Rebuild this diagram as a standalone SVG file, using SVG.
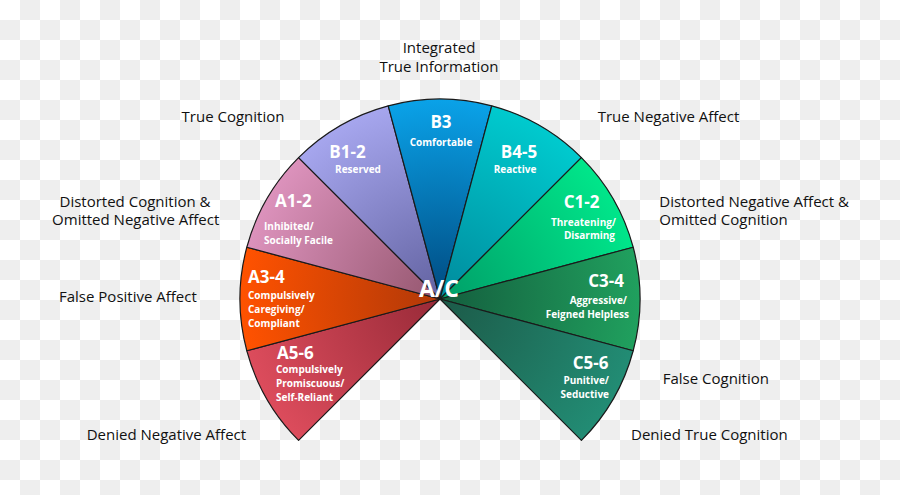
<svg xmlns="http://www.w3.org/2000/svg" width="900" height="495" viewBox="0 0 900 495">
<style>
.sec{stroke:#1a1a1a;stroke-width:1.2;stroke-linejoin:round}
.t{font-family:"Open Sans","Noto Sans","Liberation Sans",sans-serif;fill:#fff;font-weight:700}
.h{font-size:17px}
.d{font-size:10px}
.o{font-family:"Open Sans","Noto Sans","Liberation Sans",sans-serif;font-size:15px;fill:#111}
.m{text-anchor:middle}
.e{text-anchor:end}
</style>
<defs>
<pattern id="chk" width="40" height="40" patternUnits="userSpaceOnUse">
<rect width="40" height="40" fill="#ffffff"/>
<rect x="20" y="0" width="20" height="20" fill="#eeeeee"/>
<rect x="0" y="20" width="20" height="20" fill="#eeeeee"/>
</pattern>
<radialGradient id="gA56" gradientUnits="userSpaceOnUse" cx="440" cy="299" r="200"><stop offset="0" stop-color="#982a38"/><stop offset="1" stop-color="#dc4c5c"/></radialGradient>
<radialGradient id="gA34" gradientUnits="userSpaceOnUse" cx="440" cy="299" r="200"><stop offset="0" stop-color="#b03808"/><stop offset="1" stop-color="#ff5200"/></radialGradient>
<radialGradient id="gA12" gradientUnits="userSpaceOnUse" cx="440" cy="299" r="200"><stop offset="0" stop-color="#94566e"/><stop offset="1" stop-color="#dc92bc"/></radialGradient>
<radialGradient id="gB12" gradientUnits="userSpaceOnUse" cx="440" cy="299" r="200"><stop offset="0" stop-color="#6262a0"/><stop offset="1" stop-color="#a6a6ee"/></radialGradient>
<radialGradient id="gB3" gradientUnits="userSpaceOnUse" cx="440" cy="299" r="200"><stop offset="0" stop-color="#004a80"/><stop offset="1" stop-color="#0aa2e8"/></radialGradient>
<radialGradient id="gB45" gradientUnits="userSpaceOnUse" cx="440" cy="299" r="200"><stop offset="0" stop-color="#008a9c"/><stop offset="1" stop-color="#00cace"/></radialGradient>
<radialGradient id="gC12" gradientUnits="userSpaceOnUse" cx="440" cy="299" r="200"><stop offset="0" stop-color="#009e68"/><stop offset="1" stop-color="#00e68a"/></radialGradient>
<radialGradient id="gC34" gradientUnits="userSpaceOnUse" cx="440" cy="299" r="200"><stop offset="0" stop-color="#145e3e"/><stop offset="1" stop-color="#20a05e"/></radialGradient>
<radialGradient id="gC56" gradientUnits="userSpaceOnUse" cx="440" cy="299" r="200"><stop offset="0" stop-color="#1c5a48"/><stop offset="1" stop-color="#228c74"/></radialGradient>
</defs>
<rect width="900" height="495" fill="url(#chk)"/>

<g id="A56"><path class="sec" fill="url(#gA56)" d="M440,299 L298.58,440.42 A200,200 0 0 1 246.81,350.76 Z"/>
<text class="t h" x="277" y="358.5">A5-6</text>
<text class="t d" x="276" y="373">Compulsively</text>
<text class="t d" x="276" y="387">Promiscuous/</text>
<text class="t d" x="276" y="401">Self-Reliant</text></g>

<g id="A34"><path class="sec" fill="url(#gA34)" d="M440,299 L246.81,350.76 A200,200 0 0 1 246.81,247.24 Z"/>
<text class="t h" x="248" y="283">A3-4</text>
<text class="t d" x="248" y="298.5">Compulsively</text>
<text class="t d" x="248" y="313">Caregiving/</text>
<text class="t d" x="248" y="327">Compliant</text></g>

<g id="A12"><path class="sec" fill="url(#gA12)" d="M440,299 L246.81,247.24 A200,200 0 0 1 298.58,157.58 Z"/>
<text class="t h" x="275" y="207">A1-2</text>
<text class="t d" x="264" y="230">Inhibited/</text>
<text class="t d" x="264" y="244">Socially Facile</text></g>

<g id="B12"><path class="sec" fill="url(#gB12)" d="M440,299 L298.58,157.58 A200,200 0 0 1 388.24,105.81 Z"/>
<text class="t h m" x="347.5" y="158">B1-2</text>
<text class="t d m" x="358" y="172.5">Reserved</text></g>

<g id="B3"><path class="sec" fill="url(#gB3)" d="M440,299 L388.24,105.81 A200,200 0 0 1 491.76,105.81 Z"/>
<text class="t h m" x="441" y="128">B3</text>
<text class="t d m" x="441" y="146">Comfortable</text></g>

<g id="B45"><path class="sec" fill="url(#gB45)" d="M440,299 L491.76,105.81 A200,200 0 0 1 581.42,157.58 Z"/>
<text class="t h m" x="519" y="158">B4-5</text>
<text class="t d m" x="515" y="172.5">Reactive</text></g>

<g id="C12"><path class="sec" fill="url(#gC12)" d="M440,299 L581.42,157.58 A200,200 0 0 1 633.19,247.24 Z"/>
<text class="t h m" x="581.5" y="208">C1-2</text>
<text class="t d e" x="616" y="226">Threatening/</text>
<text class="t d e" x="615" y="238.5">Disarming</text></g>

<g id="C34"><path class="sec" fill="url(#gC34)" d="M440,299 L633.19,247.24 A200,200 0 0 1 633.19,350.76 Z"/>
<text class="t h e" x="624" y="287">C3-4</text>
<text class="t d e" x="627" y="304">Aggressive/</text>
<text class="t d e" x="629" y="318">Feigned Helpless</text></g>

<g id="C56"><path class="sec" fill="url(#gC56)" d="M440,299 L633.19,350.76 A200,200 0 0 1 581.42,440.42 Z"/>
<text class="t h e" x="608.5" y="369">C5-6</text>
<text class="t d e" x="609" y="384">Punitive/</text>
<text class="t d e" x="609" y="398">Seductive</text></g>

<g id="center"><text class="t m" x="439" y="296.5" font-size="23">A/C</text></g>

<g id="labels">
<text class="o m" x="439" y="53.3">Integrated</text>
<text class="o m" x="439" y="71.5">True Information</text>
<text class="o m" x="233" y="122">True Cognition</text>
<text class="o" x="597.7" y="122">True Negative Affect</text>
<text class="o m" x="135" y="206.7">Distorted Cognition &amp;</text>
<text class="o m" x="135.7" y="225">Omitted Negative Affect</text>
<text class="o" x="59" y="302.3">False Positive Affect</text>
<text class="o" x="86.7" y="440">Denied Negative Affect</text>
<text class="o" x="659.3" y="206.7">Distorted Negative Affect &amp;</text>
<text class="o" x="659.3" y="225">Omitted Cognition</text>
<text class="o" x="662.7" y="384">False Cognition</text>
<text class="o" x="631" y="440">Denied True Cognition</text>
</g>
</svg>
